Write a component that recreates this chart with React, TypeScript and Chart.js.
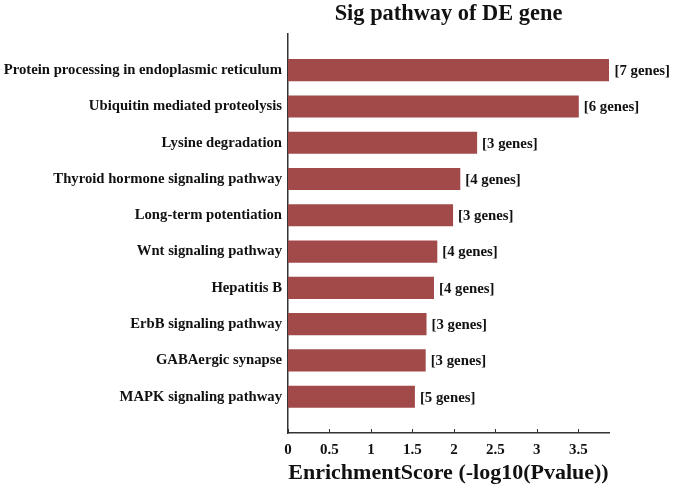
import React, { useEffect, useRef } from "react";
import { Chart, registerables } from "chart.js";

Chart.register(...registerables);

const pathways = [
  "Protein processing in endoplasmic reticulum",
  "Ubiquitin mediated proteolysis",
  "Lysine degradation",
  "Thyroid hormone signaling pathway",
  "Long-term potentiation",
  "Wnt signaling pathway",
  "Hepatitis B",
  "ErbB signaling pathway",
  "GABAergic synapse",
  "MAPK signaling pathway",
];
const enrichmentScores = [3.876, 3.506, 2.28, 2.077, 1.99, 1.8, 1.76, 1.67, 1.66, 1.53];
const geneCounts = [7, 6, 3, 4, 3, 4, 4, 3, 3, 5];
const xTickValues = [0, 0.5, 1, 1.5, 2, 2.5, 3, 3.5];
const xMax = 3.87;

const FONT = "'Liberation Serif', 'Times New Roman', serif";

export default function App() {
  const ref = useRef<HTMLCanvasElement | null>(null);
  useEffect(() => {
    if (!ref.current) return;
    const genePlugin = {
      id: "geneLabels",
      afterDatasetsDraw(chart: any) {
        const ctx = chart.ctx;
        const meta = chart.getDatasetMeta(0);
        ctx.save();
        ctx.font = `bold 14.8px ${FONT}`;
        ctx.fillStyle = "#111";
        ctx.textBaseline = "middle";
        ctx.textAlign = "left";
        meta.data.forEach((el: any, i: number) => {
          ctx.fillText(`[${geneCounts[i]} genes]`, el.x + 5, el.y + 1);
        });
        ctx.restore();
      },
    };
    const innerTicks = {
      id: "innerTicks",
      afterDraw(chart: any) {
        const ctx = chart.ctx;
        const xs = chart.scales.x;
        ctx.save();
        ctx.strokeStyle = "#333";
        ctx.lineWidth = 1;
        xs.ticks.forEach((t: any) => {
          const px = Math.round(xs.getPixelForValue(t.value)) + 0.5;
          ctx.beginPath();
          ctx.moveTo(px, xs.top);
          ctx.lineTo(px, xs.top - 4);
          ctx.stroke();
        });
        ctx.restore();
      },
    };
    const chart = new Chart(ref.current, {
      type: "bar",
      data: {
        datasets: [
          {
            data: enrichmentScores.map((v, i) => ({ x: v, y: i + 1 })),
            backgroundColor: "#a24a4a",
            borderWidth: 0,
            barPercentage: 0.61,
            categoryPercentage: 1,
          },
        ],
      },
      options: {
        indexAxis: "y",
        animation: false,
        responsive: false,
        maintainAspectRatio: false,
        layout: { padding: { left: 0, right: 66, top: 0, bottom: 0 } },
        plugins: {
          legend: { display: false },
          tooltip: { enabled: false },
          title: {
            display: true,
            fullSize: false,
            text: "Sig pathway of DE gene",
            color: "#111",
            font: { family: FONT, size: 22.4, weight: "bold" },
            padding: { top: 1, bottom: 6 },
          },
        },
        scales: {
          x: {
            type: "linear",
            min: 0,
            max: xMax,
            afterBuildTicks: (s: any) => {
              s.ticks = xTickValues.map((v) => ({ value: v }));
            },
            afterFit: (s: any) => {
              s.height = 56;
            },
            ticks: {
              color: "#111",
              font: { family: FONT, size: 15, weight: "bold" },
              padding: 8,
              callback: (v: any) => String(v),
              maxRotation: 0,
            },
            grid: { display: false, drawTicks: false },
            border: { display: true, color: "#333", width: 1.5 },
            title: {
              display: true,
              text: "EnrichmentScore (-log10(Pvalue))",
              color: "#111",
              font: { family: FONT, size: 22, weight: "bold" },
              padding: { top: 0, bottom: 2 },
            },
          },
          y: {
            type: "linear",
            reverse: true,
            offset: false,
            min: 0,
            max: pathways.length + 1,
            afterBuildTicks: (s: any) => {
              s.ticks = pathways.map((_, i) => ({ value: i + 1 }));
            },
            afterFit: (s: any) => {
              s.width = 288;
            },
            ticks: {
              color: "#111",
              font: { family: FONT, size: 14.7, weight: "bold" },
              padding: 6,
              autoSkip: false,
              callback: (v: any) => pathways[Number(v) - 1] ?? "",
            },
            grid: { display: false, drawTicks: false },
            border: { display: true, color: "#333", width: 1.5 },
          },
        },
      },
      plugins: [genePlugin, innerTicks],
    });
    return () => chart.destroy();
  }, []);
  return (
    <div style={{ position: "fixed", left: 0, top: 0, width: 675, height: 489, background: "#fff" }}>
      <canvas ref={ref} width={675} height={489} style={{ width: 675, height: 489 }} />
    </div>
  );
}
